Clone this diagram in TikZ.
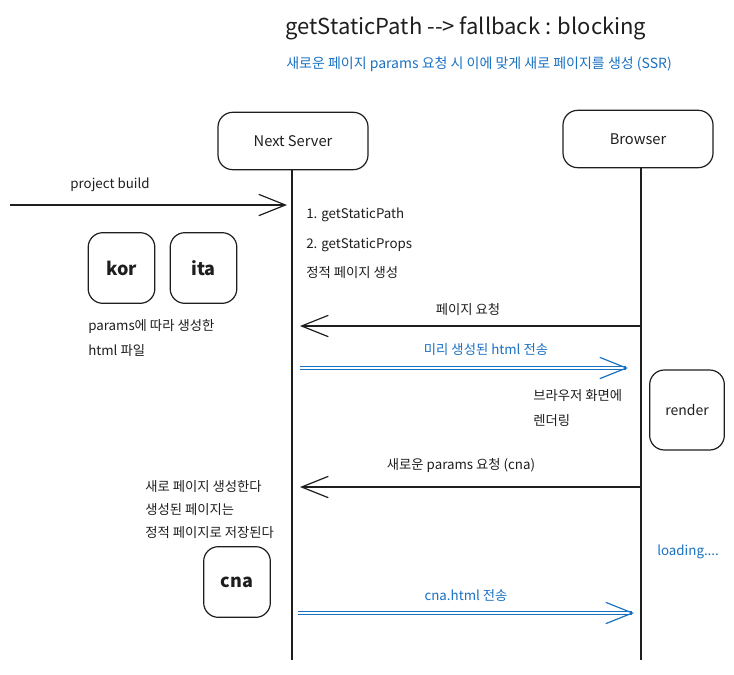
\documentclass[tikz,border=0pt]{standalone}
\usepackage{fontspec}
\setmainfont{Noto Sans CJK KR}
\usetikzlibrary{arrows.meta}
\definecolor{ink}{HTML}{1E1E1E}
\definecolor{xblue}{HTML}{1971C2}
\tikzset{
  actor/.style={draw=ink, line width=0.9pt, rounded corners=11pt, minimum width=112.5pt, minimum height=43pt, font=\fontsize{11}{13}\selectfont, text=ink},
  filebox/.style={draw=ink, line width=0.9pt, rounded corners=11pt, minimum width=50pt, minimum height=53pt, font=\fontsize{13.5}{16}\selectfont\bfseries, text=ink},
  lifeline/.style={draw=ink, line width=1pt},
  msg/.style={draw=ink, line width=1pt, -{Straight Barb[length=20pt,width=16pt,line width=0.9pt]}},
  reply/.style={draw=xblue, line width=1pt, double distance=1pt, -{Straight Barb[length=20pt,width=16pt,line width=0.9pt]}},
  note/.style={anchor=west, inner sep=0pt, font=\fontsize{10}{12}\selectfont, text=ink},
  lbl/.style={inner sep=0pt, font=\fontsize{10}{12}\selectfont, text=ink},
  bluelbl/.style={inner sep=0pt, font=\fontsize{10}{12}\selectfont, text=xblue},
}
\begin{document}
\begin{tikzpicture}[x=0.75pt,y=-0.75pt]
\useasboundingbox (0,0) rectangle (734,674);

% heading
\node[inner sep=0pt, font=\fontsize{16.5}{19}\selectfont, text=ink] (title) at (466,28) {getStaticPath \mbox{-}\mbox{-}> fallback : blocking};
\node[bluelbl, font=\fontsize{10.5}{12}\selectfont] (subtitle) at (479,64) {새로운 페이지 params 요청 시 이에 맞게 새로 페이지를 생성 (SSR)};

% participants
\node[actor] (server) at (293,141) {Next Server};
\node[actor] (browser) at (638,139) {Browser};

% lifelines
\coordinate (serverEnd) at (292,660);
\coordinate (browserEnd) at (641,660);
\draw[lifeline] (server.south -| serverEnd) -- (serverEnd);
\draw[lifeline] (browser.south -| browserEnd) -- (browserEnd);

% build step
\coordinate (buildStart) at (10,205);
\coordinate (buildEnd) at (287,205);
\draw[msg] (buildStart) -- (buildEnd);
\node[lbl] (buildLbl) at (110,185) {project build};

\node[note] (step1) at (306,215) {1. getStaticPath};
\node[note] (step2) at (306,245) {2. getStaticProps};
\node[note] (step3) at (306,273) {정적 페이지 생성};

% prebuilt pages
\node[filebox] (kor) at (121.5,268) {kor};
\node[filebox] (ita) at (203.5,268) {ita};
\node[note] (preNote1) at (88,327) {params에 따라 생성한};
\node[note] (preNote2) at (88,351) {html 파일};

% page request
\coordinate (req1From) at (641,326);
\coordinate (req1To) at (300,326);
\draw[msg] (req1From) -- (req1To);
\node[lbl] (req1Lbl) at (468,309) {페이지 요청};

% prebuilt html response
\coordinate (res1From) at (300,368);
\coordinate (res1To) at (628,368);
\draw[reply] (res1From) -- (res1To);
\node[bluelbl] (res1Lbl) at (486,350) {미리 생성된 html 전송};

\node[note] (rend1) at (533,396) {브라우저 화면에};
\node[note] (rend2) at (533,421) {렌더링};
\node[filebox, minimum width=56pt, minimum height=60pt, font=\fontsize{10.5}{12}\selectfont] (render) at (687,410) {render};

% new params request
\coordinate (req2From) at (641,487);
\coordinate (req2To) at (300,487);
\draw[msg] (req2From) -- (req2To);
\node[lbl] (req2Lbl) at (461,465) {새로운 params 요청 (cna)};

\node[note] (newNote1) at (145,487) {새로 페이지 생성한다};
\node[note] (newNote2) at (145,510) {생성된 페이지는};
\node[note] (newNote3) at (145,533) {정적 페이지로 저장된다};
\node[filebox] (cna) at (237,582) {cna};

\node[bluelbl, anchor=west] (loading) at (657,552) {loading....};

% generated html response
\coordinate (res2From) at (298,613);
\coordinate (res2To) at (634,613);
\draw[reply] (res2From) -- (res2To);
\node[bluelbl] (res2Lbl) at (466,595) {cna.html 전송};
\end{tikzpicture}
\end{document}
